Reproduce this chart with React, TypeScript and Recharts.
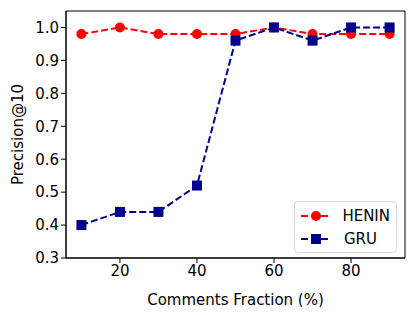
import { LineChart, Line, XAxis, YAxis, ReferenceArea } from "recharts"

const fractions = [10, 20, 30, 40, 50, 60, 70, 80, 90]
const heninValues = [0.98, 1.0, 0.98, 0.98, 0.98, 1.0, 0.98, 0.98, 0.98]
const gruValues = [0.4, 0.44, 0.44, 0.52, 0.96, 1.0, 0.96, 1.0, 1.0]
const xTicks = [20, 40, 60, 80]
const yTicks = [0.3, 0.4, 0.5, 0.6, 0.7, 0.8, 0.9, 1.0]

const data = fractions.map((f, i) => ({
  fraction: f,
  henin: heninValues[i],
  gru: gruValues[i],
}))

const font = "'DejaVu Sans', sans-serif"
const RED = "#ff0000"
const NAVY = "#00008b"
const FS = 15

const Square = (props: any) => {
  const { cx, cy } = props
  if (cx == null || cy == null) return null
  return <rect x={cx - 5} y={cy - 5} width={10} height={10} fill={NAVY} />
}

const LegendBox = () => (
  <div
    style={{
      position: "absolute",
      left: 294,
      top: 201,
      width: 103,
      boxSizing: "border-box",
      border: "1px solid #d8d8d8",
      borderRadius: 4,
      background: "#fff",
      padding: "2px 6px 2px 6px",
      fontFamily: font,
      fontSize: FS,
      color: "#000",
    }}
  >
    {[
      { name: "HENIN", color: RED, shape: "circle" },
      { name: "GRU", color: NAVY, shape: "square" },
    ].map((item) => (
      <div key={item.name} style={{ display: "flex", alignItems: "center", height: 23 }}>
        <svg width={30} height={12}>
          <line x1={0} y1={6} x2={30} y2={6} stroke={item.color} strokeWidth={2} strokeDasharray="7 3" />
          {item.shape === "circle" ? (
            <circle cx={15} cy={6} r={5} fill={item.color} />
          ) : (
            <rect x={10} y={1} width={10} height={10} fill={item.color} />
          )}
        </svg>
        <span style={{ marginLeft: 13 }}>{item.name}</span>
      </div>
    ))}
  </div>
)

export default function App() {
  return (
    <div style={{ margin: -8, width: 416, height: 315, background: "#fff", position: "relative" }}>
      <LineChart
        width={416}
        height={315}
        data={data}
        margin={{ top: 11, right: 11, left: 0, bottom: 0 }}
      >
        <XAxis
          dataKey="fraction"
          type="number"
          domain={[6, 94]}
          ticks={xTicks}
          height={57}
          stroke="#000"
          tickSize={5}
          tick={{ fill: "#000", fontSize: FS, fontFamily: font }}
          label={{ value: "Comments Fraction (%)", position: "insideBottom", offset: 10, fill: "#000", fontSize: FS, fontFamily: font }}
        />
        <YAxis
          type="number"
          domain={[0.3, 1.05]}
          ticks={yTicks}
          width={66}
          stroke="#000"
          tickSize={5}
          tickFormatter={(v: number) => v.toFixed(1)}
          tick={{ fill: "#000", fontSize: FS, fontFamily: font }}
          label={{ value: "Precision@10", angle: -90, position: "insideLeft", offset: 18, fill: "#000", fontSize: FS, fontFamily: font, style: { textAnchor: "middle" } }}
        />
        <ReferenceArea x1={6} x2={94} y1={0.3} y2={1.05} fill="none" stroke="#000" strokeWidth={1} ifOverflow="visible" />
        <Line
          dataKey="henin"
          stroke={RED}
          strokeWidth={2}
          strokeDasharray="7 3"
          dot={{ r: 5, fill: RED, stroke: RED, strokeWidth: 0, strokeDasharray: "" }}
          isAnimationActive={false}
        />
        <Line
          dataKey="gru"
          stroke={NAVY}
          strokeWidth={2}
          strokeDasharray="7 3"
          dot={<Square />}
          isAnimationActive={false}
        />
      </LineChart>
      <LegendBox />
    </div>
  )
}
